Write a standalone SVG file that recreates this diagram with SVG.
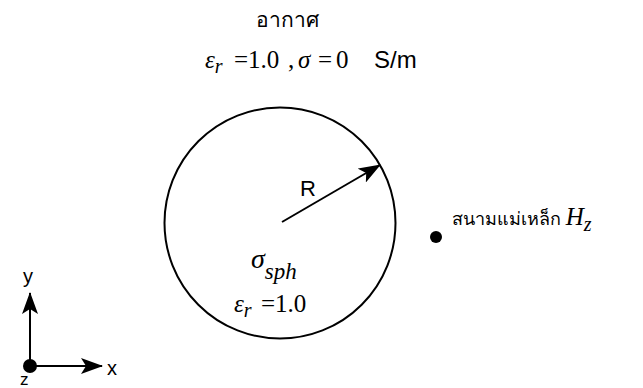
<svg xmlns="http://www.w3.org/2000/svg" width="643" height="388" viewBox="0 0 643 388">
<style>
.serif{font-family:"Liberation Serif","Times New Roman",serif;fill:#000}
.it{font-style:italic}
.sans{font-family:"Liberation Sans",Arial,sans-serif;fill:#000}
.thai{font-family:"Noto Sans","DejaVu Sans",sans-serif;fill:#000}
.ln{stroke:#000;stroke-width:2;fill:none}
</style>
<defs>
<marker id="ah" viewBox="0 0 22 16" refX="21" refY="8" markerWidth="22" markerHeight="16" markerUnits="userSpaceOnUse" orient="auto">
<path d="M0,0 L22,8 L0,16 L5,8 Z" fill="#000"/>
</marker>
</defs>
<rect width="643" height="388" fill="#fff"/>
<g id="air-label">
<text class="thai" x="287" y="27" font-size="21" text-anchor="middle">อากาศ</text>
<text font-size="25" y="68"><tspan class="serif it" x="205">ε</tspan><tspan class="serif it" font-size="20" dy="5">r</tspan><tspan class="serif" x="234" dy="-5">=1.0</tspan><tspan class="serif" x="288">,</tspan><tspan class="serif it" x="298">σ</tspan><tspan class="serif" x="318">=</tspan><tspan class="serif" x="336">0</tspan><tspan class="sans" x="374" font-size="24">S/m</tspan></text>
</g>
<g id="sphere">
<circle class="ln" cx="280" cy="223" r="115.5"/>
<text class="sans" x="300" y="196" font-size="22">R</text>
<text font-size="28" y="268"><tspan class="serif it" x="251">σ</tspan><tspan class="serif it" font-size="23" dy="11">sph</tspan></text>
<text font-size="25" y="312"><tspan class="serif it" x="234">ε</tspan><tspan class="serif it" font-size="20" dy="5">r</tspan><tspan class="serif" x="261" dy="-5">=1.0</tspan></text>
</g>
<g id="field-point">
<circle cx="436" cy="237" r="6" fill="#000"/>
<text x="452" y="225"><tspan class="thai" font-size="18">สนามแม่เหล็ก </tspan><tspan class="serif it" font-size="25">H</tspan><tspan class="serif it" font-size="20" dy="6">z</tspan></text>
</g>
<g id="axes">
<circle cx="30" cy="366" r="7" fill="#000"/>
<text class="sans" x="23" y="283" font-size="20">y</text>
<text class="sans" x="107" y="375" font-size="20">x</text>
<text class="sans" x="20" y="385" font-size="17">z</text>
</g>
<g id="connectors">
<line class="ln" x1="282" y1="222" x2="380" y2="165" marker-end="url(#ah)"/>
<line class="ln" x1="30" y1="366" x2="30" y2="293" marker-end="url(#ah)"/>
<line class="ln" x1="30" y1="366" x2="102" y2="366" marker-end="url(#ah)"/>
</g>
</svg>
